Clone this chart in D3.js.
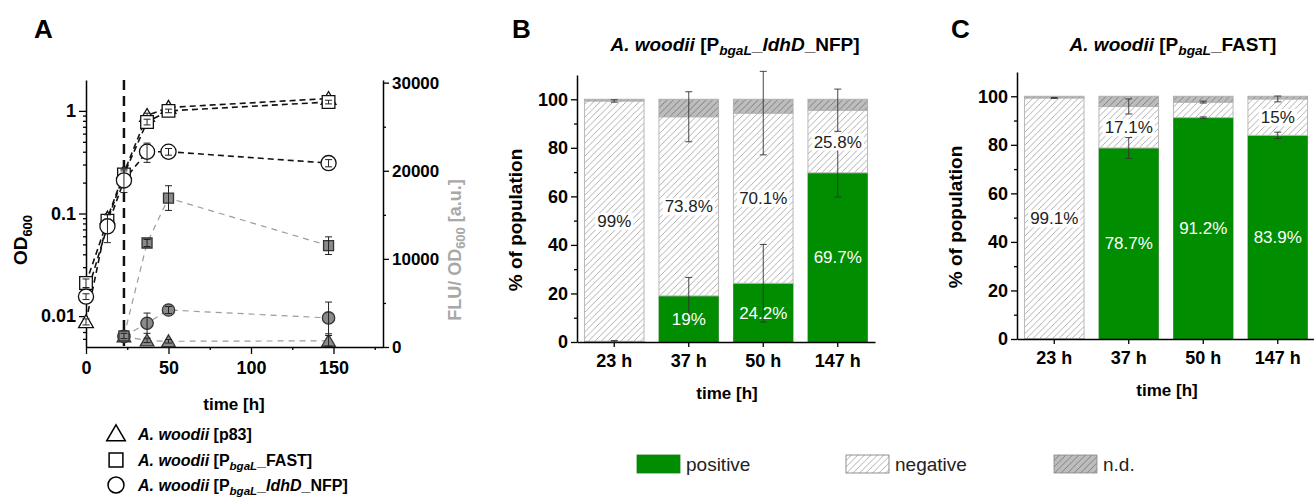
<!DOCTYPE html>
<html>
<head>
<meta charset="utf-8">
<script src="https://cdn.jsdelivr.net/npm/d3@7"></script>
<style>
  body { margin: 0; background: #fff; }
  svg { font-family: "Liberation Sans", Arial, sans-serif; }
</style>
</head>
<body>
<svg id="fig" width="1314" height="499"></svg>
<script>
// ---- panel A data ----
const hoursOD = [0, 13, 23, 37, 50, 147];
const odP83 = [0.0088, 0.09, 0.25, 0.9, 1.08, 1.32];
const odP83Err = [0.0006, 0.006, 0.02, 0.05, 0.05, 0.06];
const odFast = [0.021, 0.085, 0.24, 0.78, 1.0, 1.22];
const odFastErr = [0.002, 0.012, 0.03, 0.05, 0.04, 0.05];
const odNfp = [0.0155, 0.075, 0.21, 0.40, 0.40, 0.31];
const odNfpErr = [0.001, 0.023, 0.05, 0.085, 0.03, 0.025];

const hoursFlu = [23, 37, 50, 147];
const fluP83 = [1200, 750, 650, 700];
const fluP83Err = [200, 250, 200, 600];
const fluFast = [1250, 11800, 16900, 11500];
const fluFastErr = [300, 400, 1400, 1000];
const fluNfp = [1200, 2700, 4200, 3300];
const fluNfpErr = [300, 1150, 400, 1800];
const inductionHour = 23;

// ---- panels B / C data ----
const barTimes = ['23 h', '37 h', '50 h', '147 h'];
const nfpPos = [0.3, 19, 24.2, 69.7];
const nfpNeg = [99, 73.8, 70.1, 25.8];
const nfpPosErr = [0.3, 7.6, 16, 10];
const nfpNegErr = [0.5, 10.3, 17.2, 8.7];
const nfpPosLbl = ['', '19%', '24.2%', '69.7%'];
const nfpNegLbl = ['99%', '73.8%', '70.1%', '25.8%'];

const fastPos = [0.2, 78.7, 91.2, 83.9];
const fastNeg = [99.1, 17.1, 6.4, 15];
const fastPosErr = [0, 4.3, 0.3, 1.3];
const fastNegErr = [0.2, 3.1, 0.4, 1.2];
const fastPosLbl = ['', '78.7%', '91.2%', '83.9%'];
const fastNegLbl = ['99.1%', '17.1%', '', '15%'];

const GREEN = '#008d00';
const svg = d3.select('#fig');

// patterns
const defs = svg.append('defs');
const neg = defs.append('pattern').attr('id', 'hatchNeg')
  .attr('patternUnits', 'userSpaceOnUse').attr('width', 6.5).attr('height', 6.5);
neg.append('rect').attr('width', 6.5).attr('height', 6.5).attr('fill', '#fff');
neg.append('path').attr('d', 'M0,6.5L6.5,0M-2,2L2,-2M4.5,8.5L8.5,4.5')
  .attr('stroke', '#9a9a9a').attr('stroke-width', 0.8);
const nd = defs.append('pattern').attr('id', 'hatchNd')
  .attr('patternUnits', 'userSpaceOnUse').attr('width', 6.5).attr('height', 6.5);
nd.append('rect').attr('width', 6.5).attr('height', 6.5).attr('fill', '#bdbdbd');
nd.append('path').attr('d', 'M0,6.5L6.5,0M-2,2L2,-2M4.5,8.5L8.5,4.5')
  .attr('stroke', '#6e6e6e').attr('stroke-width', 0.8);

function styleAxis(g, size) {
  g.select('.domain').attr('stroke', '#000').attr('stroke-width', 1.5);
  g.selectAll('.tick line').attr('stroke', '#000').attr('stroke-width', 1.3);
  g.selectAll('.tick text').attr('font-size', size).attr('font-weight', 'bold').attr('fill', '#000');
}

// panel letters
[['A', 34, 38], ['B', 512, 38], ['C', 951, 38]].forEach(p => {
  svg.append('text').attr('x', p[1]).attr('y', p[2]).text(p[0])
    .attr('font-size', 26).attr('font-weight', 'bold');
});

// ================= Panel A =================
const xA = d3.scaleLinear([0, 180], [86, 383]);
const yOD = d3.scaleLog([0.005, 2], [347, 80]);
const yFlu = d3.scaleLinear([0, 30300], [347, 80]);

const gA = svg.append('g');

const minorLog = [];
[0.001, 0.01, 0.1, 1].forEach(dec => {
  for (let k = 2; k <= 9; k++) {
    const v = dec * k;
    if (v > 0.005 && v < 2) minorLog.push(v);
  }
});
gA.append('g').attr('transform', 'translate(86,0)')
  .call(d3.axisLeft(yOD).tickValues(minorLog).tickSize(3).tickFormat('').tickSizeOuter(0))
  .call(g => { styleAxis(g, 17); g.select('.domain').remove(); });
gA.append('g').attr('transform', 'translate(86,0)')
  .call(d3.axisLeft(yOD).tickValues([0.01, 0.1, 1]).tickSize(7).tickSizeOuter(0)
    .tickFormat(d => d === 1 ? '1' : String(d)))
  .call(g => styleAxis(g, 18));

gA.append('g').attr('transform', 'translate(0,347)')
  .call(d3.axisBottom(xA).tickValues([25, 75, 125, 175]).tickSize(3).tickFormat('').tickSizeOuter(0))
  .call(g => { styleAxis(g, 17); g.select('.domain').remove(); });
gA.append('g').attr('transform', 'translate(0,347)')
  .call(d3.axisBottom(xA).tickValues([0, 50, 100, 150]).tickSize(7).tickSizeOuter(0).tickPadding(7))
  .call(g => styleAxis(g, 18));

gA.append('g').attr('transform', 'translate(383,0)')
  .call(d3.axisRight(yFlu).tickValues([5000, 15000, 25000]).tickSize(3).tickFormat('').tickSizeOuter(0))
  .call(g => { styleAxis(g, 17); g.select('.domain').remove(); });
gA.append('g').attr('transform', 'translate(383,0)')
  .call(d3.axisRight(yFlu).tickValues([0, 10000, 20000, 30000]).tickSize(6).tickSizeOuter(0)
    .tickFormat(d3.format('d')))
  .call(g => styleAxis(g, 17));

// induction line
gA.append('line')
  .attr('x1', xA(inductionHour)).attr('x2', xA(inductionHour))
  .attr('y1', 80).attr('y2', 350)
  .attr('stroke', '#111').attr('stroke-width', 2.5).attr('stroke-dasharray', '10,6');

// axis titles
const odLbl = gA.append('text').attr('transform', 'translate(27,240) rotate(-90)')
  .attr('text-anchor', 'middle').attr('font-weight', 'bold').attr('font-size', 19);
odLbl.append('tspan').text('OD');
odLbl.append('tspan').text('600').attr('font-size', 13).attr('dy', 5);

const fluLbl = gA.append('text').attr('transform', 'translate(461,250) rotate(-90)')
  .attr('text-anchor', 'middle').attr('font-weight', 'bold').attr('font-size', 18)
  .attr('fill', '#a8a8a8');
fluLbl.append('tspan').text('FLU/ OD');
fluLbl.append('tspan').text('600').attr('font-size', 13).attr('dy', 4);
fluLbl.append('tspan').text(' [a.u.]').attr('dy', -4);

gA.append('text').attr('x', 234).attr('y', 410).attr('text-anchor', 'middle')
  .attr('font-weight', 'bold').attr('font-size', 17).text('time [h]');

const sym = {
  tri: d3.symbolTriangle, sq: d3.symbolSquare, circ: d3.symbolCircle
};

function drawSeries(hours, vals, errs, yScale, opts) {
  const pts = hours.map((h, i) => ({ x: xA(h), y: yScale(vals[i]),
    lo: yScale(Math.max(vals[i] - errs[i], yScale.domain()[0])), hi: yScale(vals[i] + errs[i]) }));
  gA.append('path').datum(pts)
    .attr('d', d3.line().x(d => d.x).y(d => d.y))
    .attr('fill', 'none').attr('stroke', opts.line).attr('stroke-width', opts.lw)
    .attr('stroke-dasharray', opts.dash);
  return pts;
}
function drawMarkers(pts, opts) {
  const g = gA.append('g');
  g.selectAll('path.m').data(pts).join('path')
    .attr('transform', d => `translate(${d.x},${d.y + (opts.shape === 'tri' ? 1.5 : 0)})`)
    .attr('d', d3.symbol(sym[opts.shape], opts.size))
    .attr('fill', opts.fill).attr('stroke', opts.stroke).attr('stroke-width', 1.3);
  const e = g.selectAll('g.e').data(pts).join('g').attr('stroke', '#222').attr('stroke-width', 1);
  e.append('line').attr('x1', d => d.x).attr('x2', d => d.x).attr('y1', d => d.lo).attr('y2', d => d.hi);
  e.append('line').attr('x1', d => d.x - 3.5).attr('x2', d => d.x + 3.5).attr('y1', d => d.lo).attr('y2', d => d.lo);
  e.append('line').attr('x1', d => d.x - 3.5).attr('x2', d => d.x + 3.5).attr('y1', d => d.hi).attr('y2', d => d.hi);
}

const grayLine = { line: '#9c9c9c', lw: 1.2, dash: '6,5' };
const blackLine = { line: '#111', lw: 1.6, dash: '6,4' };
const fP83 = drawSeries(hoursFlu, fluP83, fluP83Err, yFlu, grayLine);
const fNfp = drawSeries(hoursFlu, fluNfp, fluNfpErr, yFlu, grayLine);
const fFast = drawSeries(hoursFlu, fluFast, fluFastErr, yFlu, grayLine);
const oP83 = drawSeries(hoursOD, odP83, odP83Err, yOD, blackLine);
const oFast = drawSeries(hoursOD, odFast, odFastErr, yOD, blackLine);
const oNfp = drawSeries(hoursOD, odNfp, odNfpErr, yOD, blackLine);

drawMarkers(fP83, { shape: 'tri', size: 80, fill: '#8a8a8a', stroke: '#333' });
drawMarkers(fNfp, { shape: 'circ', size: 120, fill: '#8a8a8a', stroke: '#333' });
drawMarkers(fFast, { shape: 'sq', size: 100, fill: '#8a8a8a', stroke: '#333' });
drawMarkers(oP83, { shape: 'tri', size: 95, fill: '#fff', stroke: '#111' });
drawMarkers(oFast, { shape: 'sq', size: 160, fill: '#fff', stroke: '#111' });
drawMarkers(oNfp, { shape: 'circ', size: 180, fill: '#fff', stroke: '#111' });

// legend A
const legA = [
  { shape: 'tri', parts: [['A. woodii', true], [' [p83]', false]] },
  { shape: 'sq', parts: [['A. woodii', true], [' [P', false], ['bgaL', true, 'sub'], ['_FAST]', false]] },
  { shape: 'circ', parts: [['A. woodii', true], [' [P', false], ['bgaL', true, 'sub'], ['_', false], ['ldhD', true], ['_NFP]', false]] }
];
function richText(t, parts, fs) {
  let shifted = false;
  parts.forEach(p => {
    const ts = t.append('tspan').text(p[0]);
    if (p[1]) ts.attr('font-style', 'italic');
    if (p[2] === 'sub') { ts.attr('font-size', fs * 0.72).attr('dy', 3.5); shifted = true; }
    else if (shifted) { ts.attr('dy', -3.5); shifted = false; }
  });
}
legA.forEach((l, i) => {
  const y = [434, 460, 485][i];
  gA.append('path').attr('transform', `translate(116,${y + (l.shape === 'tri' ? 1.5 : 0)})`)
    .attr('d', d3.symbol(sym[l.shape], l.shape === 'tri' ? 150 : l.shape === 'sq' ? 190 : 200))
    .attr('fill', 'none').attr('stroke', '#000').attr('stroke-width', 1.5);
  const t = gA.append('text').attr('x', 138).attr('y', y + 6)
    .attr('font-weight', 'bold').attr('font-size', 16);
  richText(t, l.parts, 16);
});

// ================= Panels B, C =================
function drawBars(opt) {
  const g = svg.append('g');
  const x = d3.scaleBand(barTimes, [opt.x0, opt.x0 + 298]).paddingInner(0.2).paddingOuter(0.1);
  const y = d3.scaleLinear([0, 110], [opt.y0, opt.y0 - 267]);
  const rows = barTimes.map((t, i) => ({ t, pos: opt.pos[i], neg: opt.neg[i],
    nd: 100 - opt.pos[i] - opt.neg[i], pe: opt.posErr[i], ne: opt.negErr[i],
    pl: opt.posLbl[i], nl: opt.negLbl[i] }));
  const bw = x.bandwidth();

  // stacked segments
  g.selectAll('rect.p').data(rows).join('rect')
    .attr('x', d => x(d.t)).attr('width', bw)
    .attr('y', d => y(d.pos)).attr('height', d => y(0) - y(d.pos))
    .attr('fill', GREEN).attr('stroke', '#1a7a1a').attr('stroke-width', 0.6);
  g.selectAll('rect.n').data(rows).join('rect')
    .attr('x', d => x(d.t)).attr('width', bw)
    .attr('y', d => y(d.pos + d.neg)).attr('height', d => y(d.pos) - y(d.pos + d.neg))
    .attr('fill', 'url(#hatchNeg)').attr('stroke', '#b8b8b8').attr('stroke-width', 1);
  g.selectAll('rect.d').data(rows).join('rect')
    .attr('x', d => x(d.t)).attr('width', bw)
    .attr('y', d => y(100)).attr('height', d => y(d.pos + d.neg) - y(100))
    .attr('fill', 'url(#hatchNd)').attr('stroke', '#b0b0b0').attr('stroke-width', 1);

  // axes
  g.append('g').attr('transform', `translate(${opt.x0},0)`)
    .call(d3.axisLeft(y).tickValues([10, 30, 50, 70, 90]).tickSize(3).tickFormat('').tickSizeOuter(0))
    .call(a => { styleAxis(a, 17); a.select('.domain').remove(); });
  g.append('g').attr('transform', `translate(${opt.x0},0)`)
    .call(d3.axisLeft(y).tickValues([0, 20, 40, 60, 80, 100]).tickSize(6).tickSizeOuter(0))
    .call(a => styleAxis(a, 18));
  g.append('g').attr('transform', `translate(0,${opt.y0})`)
    .call(d3.axisBottom(x).tickSize(5).tickSizeOuter(0).tickPadding(7))
    .call(a => styleAxis(a, 18));

  // error bars
  const errs = [];
  rows.forEach(d => {
    errs.push({ cx: x(d.t) + bw / 2, v: d.pos, e: d.pe });
    errs.push({ cx: x(d.t) + bw / 2, v: d.pos + d.neg, e: d.ne });
  });
  const eg = g.selectAll('g.err').data(errs.filter(e => e.e > 0)).join('g')
    .attr('stroke', '#333').attr('stroke-width', 0.9);
  eg.append('line').attr('x1', d => d.cx).attr('x2', d => d.cx)
    .attr('y1', d => y(Math.max(0, d.v - d.e))).attr('y2', d => y(d.v + d.e));
  eg.append('line').attr('x1', d => d.cx - 3.5).attr('x2', d => d.cx + 3.5)
    .attr('y1', d => y(Math.max(0, d.v - d.e))).attr('y2', d => y(Math.max(0, d.v - d.e)));
  eg.append('line').attr('x1', d => d.cx - 3.5).attr('x2', d => d.cx + 3.5)
    .attr('y1', d => y(d.v + d.e)).attr('y2', d => y(d.v + d.e));

  // value labels
  rows.forEach(d => {
    const cx = x(d.t) + bw / 2;
    if (d.nl) {
      const t = g.append('text').attr('x', cx).attr('y', y(d.pos + d.neg / 2) + 6)
        .attr('text-anchor', 'middle').attr('font-size', 17).attr('fill', '#222').text(d.nl);
      const bb = t.node().getBBox();
      g.insert('rect', () => t.node()).attr('x', bb.x - 2).attr('y', bb.y + 1)
        .attr('width', bb.width + 4).attr('height', bb.height - 2).attr('fill', '#fff');
    }
    if (d.pl) {
      g.append('text').attr('x', cx).attr('y', y(d.pos / 2) + 6)
        .attr('text-anchor', 'middle').attr('font-size', 17).attr('fill', '#fff').text(d.pl);
    }
  });

  // titles
  g.append('text').attr('transform', `translate(${opt.x0 - 55},${opt.y0 - 122}) rotate(-90)`)
    .attr('text-anchor', 'middle').attr('font-weight', 'bold').attr('font-size', 19)
    .text('% of population');
  g.append('text').attr('x', opt.x0 + 150).attr('y', opt.y0 + 57).attr('text-anchor', 'middle')
    .attr('font-weight', 'bold').attr('font-size', 17).text('time [h]');
  const tt = g.append('text').attr('x', opt.titleX).attr('y', 51).attr('text-anchor', 'middle')
    .attr('font-weight', 'bold').attr('font-size', 19);
  richText(tt, opt.title, 19);
}

drawBars({ x0: 577, y0: 342, pos: nfpPos, neg: nfpNeg, posErr: nfpPosErr, negErr: nfpNegErr,
  posLbl: nfpPosLbl, negLbl: nfpNegLbl, titleX: 735,
  title: [['A. woodii', true], [' [P', false], ['bgaL', true, 'sub'], ['_', false], ['ldhD', true], ['_NFP]', false]] });
drawBars({ x0: 1017, y0: 339, pos: fastPos, neg: fastNeg, posErr: fastPosErr, negErr: fastNegErr,
  posLbl: fastPosLbl, negLbl: fastNegLbl, titleX: 1173,
  title: [['A. woodii', true], [' [P', false], ['bgaL', true, 'sub'], ['_FAST]', false]] });

// bottom legend
const legB = [
  { label: 'positive', fill: GREEN, stroke: '#1a7a1a', x: 637 },
  { label: 'negative', fill: 'url(#hatchNeg)', stroke: '#777', x: 846 },
  { label: 'n.d.', fill: 'url(#hatchNd)', stroke: '#888', x: 1054 }
];
legB.forEach(l => {
  svg.append('rect').attr('x', l.x).attr('y', 455).attr('width', 43).attr('height', 18)
    .attr('fill', l.fill).attr('stroke', l.stroke).attr('stroke-width', 0.8);
  svg.append('text').attr('x', l.x + 49).attr('y', 471).attr('font-size', 19)
    .attr('fill', '#222').text(l.label);
});
</script>
</body>
</html>
